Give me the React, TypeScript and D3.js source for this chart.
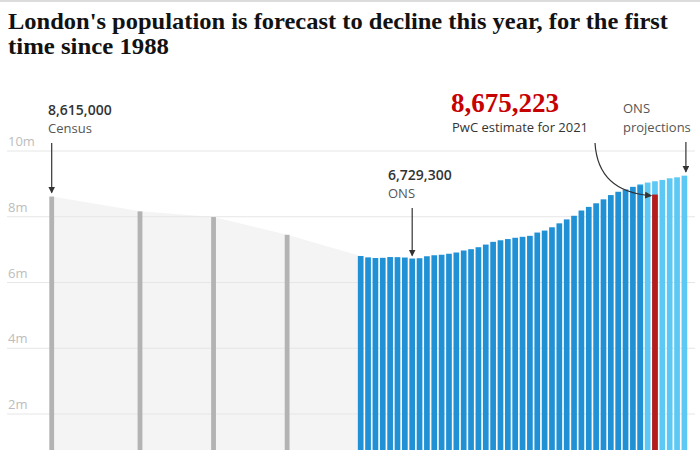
import React from "react";
import * as d3 from "d3";

const W = 700;
const H = 450;

const titleLines = [
  "London's population is forecast to decline this year, for the first",
  "time since 1988",
];
const titleWidths = [660, 161];

const censusYears = [1939, 1951, 1961, 1971];
const censusValues = [8615000, 8164000, 7992000, 7452000];

const estimateYears = d3.range(1981, 2020);
const estimateValues = [
  6806000, 6765000, 6746000, 6751000, 6775000, 6771000, 6760000, 6729300,
  6739000, 6799000, 6829000, 6845000, 6875000, 6913000, 6974000, 7014000,
  7074000, 7154000, 7237000, 7285000, 7322000, 7361000, 7390000, 7420000,
  7520000, 7580000, 7680000, 7800000, 7920000, 8030000, 8190000, 8300000,
  8410000, 8530000, 8660000, 8760000, 8830000, 8910000, 8960000,
];

const projectionYears = [2019, 2020, 2021, 2022, 2023, 2024, 2025];
const projectionValues = [8990000, 9040000, 9080000, 9120000, 9170000, 9200000, 9250000];

const pwcYear = 2021;
const pwcValue = 8675223;

const yTicks = [2000000, 4000000, 6000000, 8000000, 10000000];
const yTickLabels = ["2m", "4m", "6m", "8m", "10m"];

const fmt = d3.format(",");

export default function App() {
  const x = d3.scaleLinear().domain([1939, 2025]).range([51.7, 684.4]);
  const y = d3.scaleLinear().domain([0, 10000000]).range([479.8, 151]);
  const barW = 5.7;
  const censusW = 4.8;

  const areaPts: [number, number][] = censusYears.map((yr, i) => [yr, censusValues[i]]);
  areaPts.push([estimateYears[0], estimateValues[0]]);
  const area = d3
    .area<[number, number]>()
    .x((d) => x(d[0]))
    .y0(y(0))
    .y1((d) => y(d[1]));

  const sans = "'Open Sans', 'Noto Sans', sans-serif";
  const serif = "'Liberation Serif', serif";
  const ink = "#333333";

  const arrow = "url(#arrowhead)";

  return (
    <svg
      width={W}
      height={H}
      viewBox={`0 0 ${W} ${H}`}
      style={{ position: "absolute", left: 0, top: 0, display: "block", background: "#fff" }}
    >
      <defs>
        <marker
          id="arrowhead"
          markerUnits="userSpaceOnUse"
          markerWidth={8}
          markerHeight={8}
          refX={6}
          refY={3.5}
          orient="auto"
        >
          <path d="M0,0 L7,3.5 L0,7 Z" fill={ink} />
        </marker>
        <clipPath id="plotclip">
          <rect x={0} y={0} width={W} height={H} />
        </clipPath>
      </defs>

      <rect x={0} y={0} width={W} height={2} fill="#dcdcdc" />

      {titleLines.map((t, i) => (
        <text
          key={i}
          x={8}
          y={29 + i * 25}
          fontFamily={serif}
          fontWeight={700}
          fontSize={23}
          fill="#121212"
          textLength={titleWidths[i]}
          lengthAdjust="spacingAndGlyphs"
        >
          {t}
        </text>
      ))}

      <g clipPath="url(#plotclip)">
        <path d={area(areaPts) || ""} fill="#f4f4f4" />

        {yTicks.map((t, i) => (
          <g key={t}>
            <line x1={7} x2={695} y1={y(t)} y2={y(t)} stroke="#e6e6e6" strokeWidth={1} />
            <text x={8} y={y(t) - 5} fontFamily={sans} fontSize={13} fill="#bdbdbd">
              {yTickLabels[i]}
            </text>
          </g>
        ))}

        {censusYears.map((yr, i) => (
          <rect
            key={yr}
            x={x(yr) - censusW / 2}
            y={y(censusValues[i])}
            width={censusW}
            height={y(0) - y(censusValues[i])}
            fill="#b3b3b3"
          />
        ))}

        {projectionYears.map((yr, i) => (
          <rect
            key={"p" + yr}
            x={x(yr) - barW / 2}
            y={y(projectionValues[i])}
            width={barW}
            height={y(0) - y(projectionValues[i])}
            fill="#5ec8f5"
          />
        ))}

        {estimateYears.map((yr, i) => (
          <rect
            key={"e" + yr}
            x={x(yr) - barW / 2}
            y={y(estimateValues[i])}
            width={barW}
            height={y(0) - y(estimateValues[i])}
            fill="#2191d6"
          />
        ))}

        <rect
          x={x(pwcYear) - barW / 2}
          y={y(pwcValue)}
          width={barW}
          height={y(0) - y(pwcValue)}
          fill="#b71c1c"
        />
      </g>

      {/* Census annotation */}
      <text x={48} y={115} fontFamily={sans} fontSize={14} fontWeight={600} fill={ink}>
        {fmt(censusValues[0])}
      </text>
      <text x={48} y={133} fontFamily={sans} fontSize={13} fill="#555">
        Census
      </text>
      <line
        x1={x(censusYears[0])}
        x2={x(censusYears[0])}
        y1={143}
        y2={y(censusValues[0]) - 4}
        stroke={ink}
        strokeWidth={1.2}
        markerEnd={arrow}
      />

      {/* ONS 1988 annotation */}
      <text x={388} y={180} fontFamily={sans} fontSize={14} fontWeight={600} fill={ink}>
        {fmt(estimateValues[7])}
      </text>
      <text x={388} y={198} fontFamily={sans} fontSize={13} fill="#555">
        ONS
      </text>
      <line
        x1={x(1988)}
        x2={x(1988)}
        y1={208}
        y2={y(estimateValues[7]) - 3}
        stroke={ink}
        strokeWidth={1.2}
        markerEnd={arrow}
      />

      {/* PwC annotation */}
      <text x={451} y={112} fontFamily={serif} fontSize={27} fontWeight={700} fill="#c70000">
        {fmt(pwcValue)}
      </text>
      <text x={452} y={132} fontFamily={sans} fontSize={13} fill={ink}>
        PwC estimate for 2021
      </text>
      <path
        d={`M595,143 Q598,192 ${x(pwcYear) - barW / 2 - 1},${y(pwcValue) + 1}`}
        fill="none"
        stroke={ink}
        strokeWidth={1.2}
        markerEnd={arrow}
      />

      {/* ONS projections annotation */}
      <text x={623} y={113} fontFamily={sans} fontSize={13} fill="#555">
        ONS
      </text>
      <text x={623} y={132} fontFamily={sans} fontSize={13} fill="#555">
        projections
      </text>
      <line
        x1={x(2025) + 1.5}
        x2={x(2025) + 1.5}
        y1={142}
        y2={y(projectionValues[6]) - 4}
        stroke={ink}
        strokeWidth={1.2}
        markerEnd={arrow}
      />
    </svg>
  );
}
